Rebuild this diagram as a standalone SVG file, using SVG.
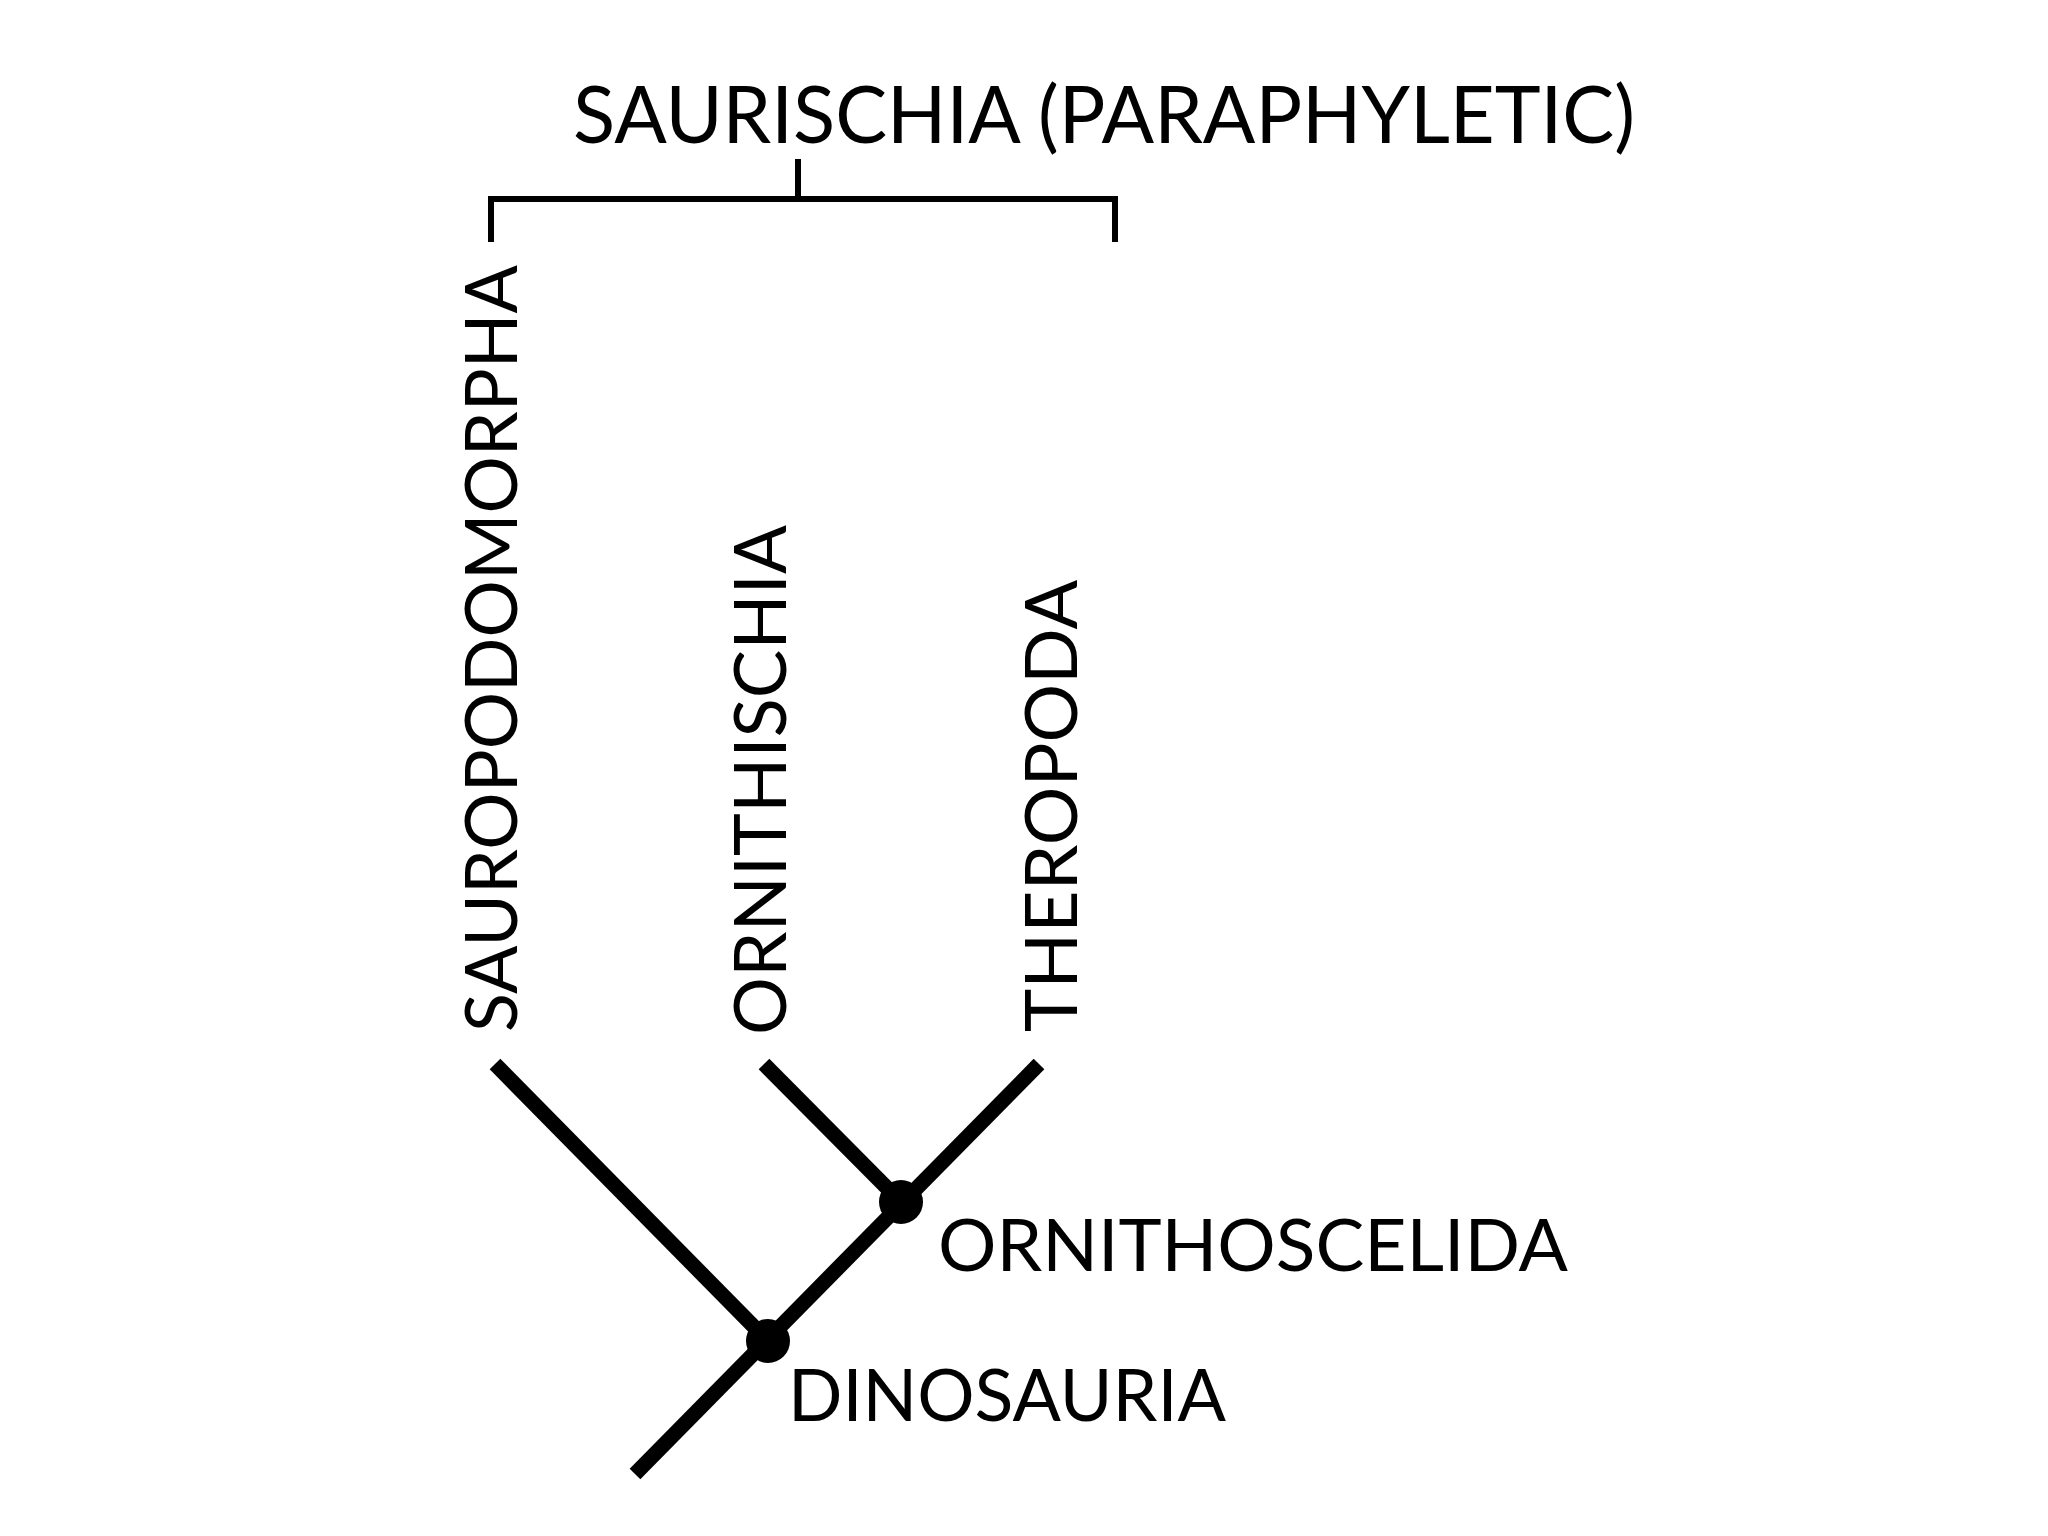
<svg xmlns="http://www.w3.org/2000/svg" width="2048" height="1536" viewBox="0 0 2048 1536">
  <style>
    .lbl { font-family: Lato, "Open Sans", "Liberation Sans", sans-serif; font-size: 72px; fill: #000; }
    .title { font-size: 80px; }
    .branch { stroke: #000; stroke-width: 15; stroke-linecap: butt; fill: none; }
    .bracket { stroke: #000; stroke-width: 6; fill: none; stroke-linecap: butt; }
    .node { fill: #000; }
  </style>
  <rect width="2048" height="1536" fill="#fff"/>

  <g id="saurischia-bracket">
    <text class="lbl title" x="573" y="143" textLength="1062" lengthAdjust="spacingAndGlyphs">SAURISCHIA (PARAPHYLETIC)</text>
    <path class="bracket" d="M491,242 L491,199 L1115,199 L1115,242 M798,159 L798,199"/>
  </g>

  <g id="connectors">
    <line class="branch" x1="495" y1="1064" x2="768" y2="1341"/>
    <line class="branch" x1="764" y1="1064" x2="901" y2="1202"/>
    <line class="branch" x1="1039" y1="1064" x2="635" y2="1474"/>
  </g>

  <g id="sauropodomorpha">
    <text class="lbl" transform="translate(517,1032) rotate(-90)" textLength="767" lengthAdjust="spacingAndGlyphs">SAUROPODOMORPHA</text>
  </g>
  <g id="ornithischia">
    <text class="lbl" transform="translate(786,1035) rotate(-90)" textLength="510" lengthAdjust="spacingAndGlyphs">ORNITHISCHIA</text>
  </g>
  <g id="theropoda">
    <text class="lbl" transform="translate(1077,1032) rotate(-90)" textLength="452" lengthAdjust="spacingAndGlyphs">THEROPODA</text>
  </g>
  <g id="ornithoscelida">
    <circle class="node" cx="901" cy="1202" r="22"/>
    <text class="lbl" x="938" y="1271" textLength="630" lengthAdjust="spacingAndGlyphs">ORNITHOSCELIDA</text>
  </g>
  <g id="dinosauria">
    <circle class="node" cx="768" cy="1341" r="22"/>
    <text class="lbl" x="788" y="1421" textLength="438" lengthAdjust="spacingAndGlyphs">DINOSAURIA</text>
  </g>
</svg>
